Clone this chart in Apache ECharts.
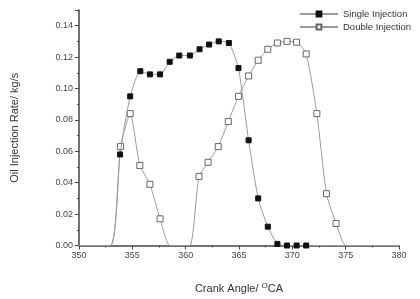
<!DOCTYPE html>
<html><head><meta charset="utf-8">
<script src="https://cdn.jsdelivr.net/npm/echarts@6/dist/echarts.min.js"></script>
<style>html,body{margin:0;padding:0;background:#fff;overflow:hidden}#c{width:420px;height:299px}</style>
</head><body><div id="c"></div>
<script>
// Single injection (filled squares)
var singleX = [353.85, 354.8, 355.75, 356.65, 357.6, 358.5, 359.4, 360.4, 361.3, 362.2, 363.1, 364.05, 364.95, 365.9, 366.8, 367.7, 368.6, 369.5, 370.4, 371.3];
var singleY = [0.058, 0.095, 0.111, 0.109, 0.109, 0.117, 0.121, 0.121, 0.125, 0.128, 0.130, 0.129, 0.113, 0.067, 0.030, 0.012, 0.001, 0.000, 0.000, 0.000];
// Baseline anchor points of the single-injection trace (no markers)
var singleBaseX = [350, 352.95, 372.2, 380];
var singleBaseY = [0, 0, 0, 0];
// Double injection (open squares)
var doubleX = [353.9, 354.8, 355.7, 356.65, 357.6, 361.25, 362.1, 363.05, 364.0, 364.95, 365.9, 366.8, 367.7, 368.6, 369.5, 370.4, 371.3, 372.3, 373.2, 374.1];
var doubleY = [0.063, 0.084, 0.051, 0.039, 0.017, 0.044, 0.053, 0.063, 0.079, 0.095, 0.108, 0.118, 0.125, 0.129, 0.130, 0.1295, 0.122, 0.084, 0.033, 0.014];
var doubleBaseX = [350, 352.95, 358.5, 359.4, 360.4, 375.0, 375.9, 380];
var doubleBaseY = [0, 0, 0, 0, 0, 0, 0, 0];
var xTicks = [350, 355, 360, 365, 370, 375, 380];
var yTicks = [0.00, 0.02, 0.04, 0.06, 0.08, 0.10, 0.12, 0.14];

function build(xs, ys, bx, by) {
  var pts = [];
  xs.forEach(function (x, i) { pts.push({ value: [x, ys[i]] }); });
  bx.forEach(function (x, i) { pts.push({ value: [x, by[i]], symbol: 'none' }); });
  pts.sort(function (a, b) { return a.value[0] - b.value[0]; });
  return pts;
}

var chart = echarts.init(document.getElementById('c'), null, { renderer: 'canvas' });
var font = 'Liberation Sans, Arial, sans-serif';
var axisCol = '#444';
chart.setOption({
  animation: false,
  grid: { left: 79, right: 21, top: 10, bottom: 53 },
  legend: {
    orient: 'vertical', left: 294, top: 4, itemGap: 3,
    itemWidth: 38, itemHeight: 6,
    textStyle: { fontFamily: font, fontSize: 9.5, color: '#333' },
    data: ['Single Injection', 'Double Injection']
  },
  xAxis: {
    type: 'value', min: 350, max: 380, interval: 5,
    name: 'Crank Angle/ {sup|O}CA', nameLocation: 'middle', nameGap: 36,
    nameTextStyle: { fontFamily: font, fontSize: 11, color: '#333',
      rich: { sup: { fontSize: 8, verticalAlign: 'top', padding: [0, 0, 6, 0], fontFamily: font, color: '#333' } } },
    axisLine: { lineStyle: { color: axisCol, width: 1.5 } },
    axisTick: { show: true, inside: false, length: 4, lineStyle: { color: axisCol } },
    minorTick: { show: true, splitNumber: 2, length: 2, lineStyle: { color: axisCol } },
    axisLabel: { fontFamily: font, fontSize: 9, color: '#444', margin: 6,
      formatter: function (v) { return xTicks.indexOf(v) >= 0 ? String(v) : ''; } },
    splitLine: { show: false }
  },
  yAxis: {
    type: 'value', min: 0, max: 0.15, interval: 0.02,
    name: 'Oil Injection Rate/ kg/s', nameLocation: 'middle', nameGap: 59,
    nameTextStyle: { fontFamily: font, fontSize: 11, color: '#333' },
    axisLine: { show: true, lineStyle: { color: axisCol, width: 1.5 } },
    axisTick: { show: true, inside: false, length: 4, lineStyle: { color: axisCol } },
    minorTick: { show: true, splitNumber: 2, length: 2, lineStyle: { color: axisCol } },
    axisLabel: { fontFamily: font, fontSize: 9, color: '#444', margin: 6,
      formatter: function (v) {
        for (var i = 0; i < yTicks.length; i++) if (Math.abs(yTicks[i] - v) < 1e-9) return yTicks[i].toFixed(2);
        return '';
      } },
    splitLine: { show: false }
  },
  series: [
    {
      name: 'Single Injection', type: 'line', smooth: 0.2,
      data: build(singleX, singleY, singleBaseX, singleBaseY),
      symbol: 'rect', symbolSize: 5, showAllSymbol: true,
      lineStyle: { color: '#9a9a9a', width: 1 },
      itemStyle: { color: '#111', borderColor: '#111', borderWidth: 1 },
      z: 3
    },
    {
      name: 'Double Injection', type: 'line', smooth: 0.2,
      data: build(doubleX, doubleY, doubleBaseX, doubleBaseY),
      symbol: 'rect', symbolSize: 6, showAllSymbol: true,
      lineStyle: { color: '#9a9a9a', width: 1 },
      itemStyle: { color: '#fff', borderColor: '#666', borderWidth: 1 },
      z: 2
    }
  ]
});
</script>
</body></html>
